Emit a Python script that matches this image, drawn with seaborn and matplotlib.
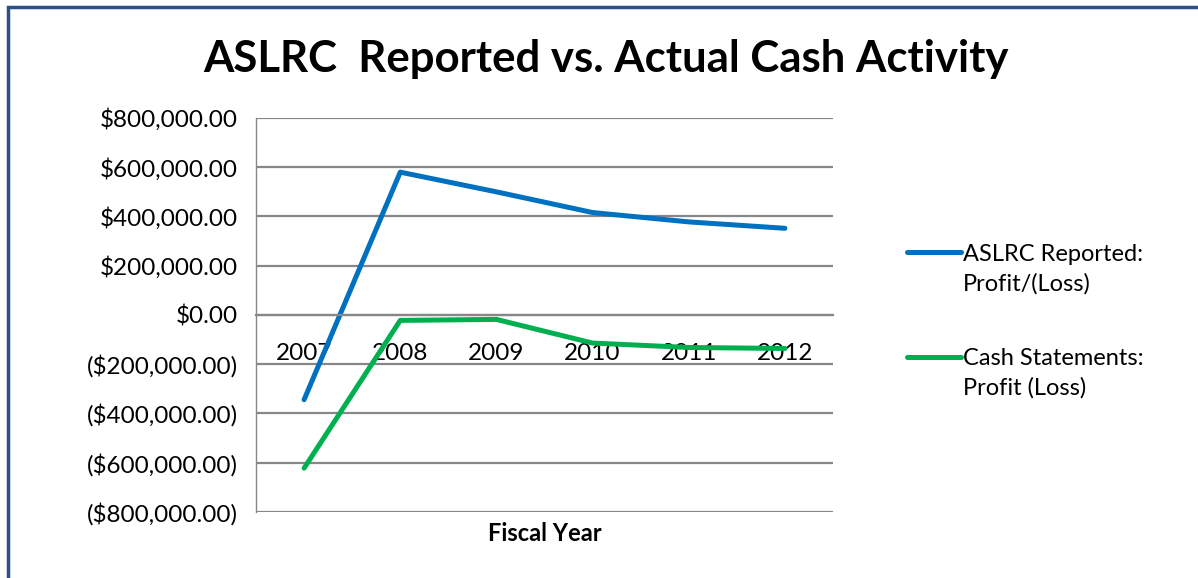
import pandas as pd
import matplotlib.pyplot as plt
import seaborn as sns
from matplotlib.patches import Rectangle
from matplotlib.ticker import FuncFormatter, FixedLocator
from matplotlib.legend_handler import HandlerLine2D

# Values
years = ['2007', '2008', '2009', '2010', '2011', '2012']
reported = [-344000, 580000, 500000, 416000, 378000, 352000]
cash = [-622000, -22000, -18000, -114000, -132000, -136000]
series_names = ['ASLRC Reported:\nProfit/(Loss)', 'Cash Statements:\nProfit (Loss)']
colors = ['#0070C0', '#00B050']

df = pd.DataFrame({
    'Year': years * 2,
    'Value': reported + cash,
    'Series': [series_names[0]] * len(years) + [series_names[1]] * len(years),
})
df['x'] = list(range(len(years))) * 2

sns.set_style('white')
plt.rcParams['font.family'] = ['Lato', 'DejaVu Sans']
plt.rcParams['text.color'] = 'black'
plt.rcParams['xtick.color'] = 'black'
plt.rcParams['ytick.color'] = 'black'

fig = plt.figure(figsize=(11.98, 5.78), dpi=100)
ax = fig.add_axes([0.2137, 0.1142, 0.4816, 0.6817])

sns.lineplot(data=df, x='x', y='Value', hue='Series', palette=colors,
             linewidth=3.6, ax=ax, legend=True, solid_capstyle='round')

# y axis
ax.set_ylim(-800000, 800000)
ax.set_yticks(range(-800000, 800001, 200000))


def money(v, pos):
    if v < 0:
        return '(${:,.2f})'.format(-v)
    return '${:,.2f}'.format(v)


ax.yaxis.set_major_formatter(FuncFormatter(money))
ax.grid(axis='y', color='#878787', linewidth=1.6)
ax.tick_params(axis='y', length=7, width=1.5, color='#878787',
               labelcolor='black', labelsize=17.5, pad=6)

# category axis sitting on the zero line
ax.set_xlim(-0.5, len(years) - 0.5)
ax.set_xticks(range(len(years)))
ax.set_xticklabels(years)
ax.xaxis.set_minor_locator(FixedLocator([i + 0.5 for i in range(-1, len(years))]))
ax.tick_params(axis='x', which='major', length=0, labelsize=17.5,
               labelcolor='black', pad=20)
ax.tick_params(axis='x', which='minor', length=7, width=1.2, color='#878787',
               direction='out')
ax.spines['bottom'].set_position(('data', 0))
ax.spines['bottom'].set_color('#878787')
ax.spines['bottom'].set_linewidth(1.6)
ax.spines['left'].set_color('#878787')
ax.spines['left'].set_linewidth(1.0)
ax.spines['top'].set_visible(False)
ax.spines['right'].set_visible(False)
ax.set_xlabel('')
ax.set_ylabel('')

fig.text(0.455, 0.077, 'Fiscal Year', ha='center', va='center',
         fontsize=17, fontweight='bold')
fig.text(0.506, 0.898, 'ASLRC  Reported vs. Actual Cash Activity',
         ha='center', va='center', fontsize=31.5, fontweight='bold')


# legend line sits next to the first line of the label, as in Excel
class FirstLineHandler(HandlerLine2D):
    def create_artists(self, legend, orig_handle, xdescent, ydescent,
                       width, height, fontsize, trans):
        artists = super().create_artists(legend, orig_handle, xdescent, ydescent,
                                         width, height, fontsize, trans)
        for a in artists:
            a.set_ydata([y + 0.72 * fontsize for y in a.get_ydata()])
        return artists


handles, labels = ax.get_legend_handles_labels()
ax.legend_.remove()
leg = fig.legend(handles, labels, loc='upper left', bbox_to_anchor=(0.739, 0.615),
                 frameon=False, fontsize=17, handlelength=2.3, handletextpad=0.1,
                 labelspacing=2.3,
                 handler_map={h: FirstLineHandler() for h in handles})
for t in leg.get_texts():
    t.set_linespacing(1.45)

# outer chart frame
fig.patches.append(Rectangle((8 / 1198, -0.1), 1.2, 1.1 - 7 / 578,
                             transform=fig.transFigure, fill=False,
                             edgecolor='#2C5088', linewidth=2.5))

fig.savefig('out.png', dpi=100)
